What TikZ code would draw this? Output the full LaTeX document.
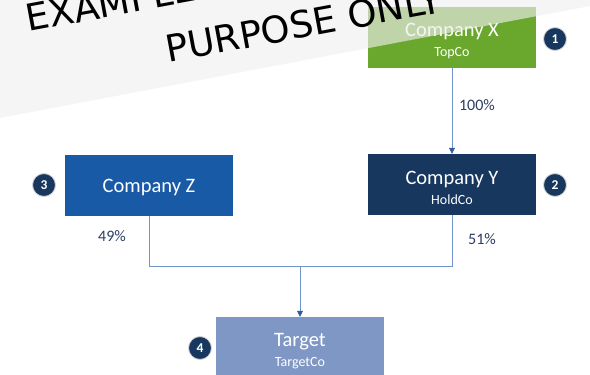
\documentclass[tikz,border=0pt]{standalone}
\usepackage{fontspec}
\setmainfont{Carlito}
\newfontfamily\markfont{DejaVu Sans}
\usepackage{tikz}
\usetikzlibrary{arrows.meta}

\definecolor{topgreen}{HTML}{6AA82D}
\definecolor{holdnavy}{HTML}{17375E}
\definecolor{compblue}{HTML}{185AA5}
\definecolor{targetblue}{HTML}{7F97C5}
\definecolor{linkblue}{HTML}{7094C8}
\definecolor{tipblue}{HTML}{2E5C9E}
\definecolor{pcttext}{HTML}{2C3E63}
\definecolor{bandgray}{HTML}{EFEFEF}

\tikzset{
	box/.style={minimum width=168pt, minimum height=61pt, inner sep=0pt, text=white,
		align=center, font=\fontsize{20.5}{23}\selectfont},
	badge/.style={circle, fill=holdnavy, draw=gray!35, line width=0.9pt, minimum size=23pt,
		inner sep=0pt, text=white, font=\fontsize{13.5}{13.5}\selectfont\bfseries},
	pct/.style={text=pcttext, font=\fontsize{16}{16}\selectfont},
	link/.style={draw=linkblue, line width=0.7pt},
	tip/.style={-{Triangle[length=6pt,width=6pt,color=tipblue]}},
	watermark/.style={rotate=10.5, anchor=base west, inner sep=0pt, font=\markfont\fontsize{37}{37}\selectfont}
}

% shift a line of box text down, keeping the node size
\newcommand{\dropline}[2]{\raisebox{-#1}[\height][\depth]{#2}}
\newcommand{\subname}[1]{{\fontsize{14}{15}\selectfont #1}}

\begin{document}
\begin{tikzpicture}[x=1pt, y=-1pt]
	\useasboundingbox (0,0) rectangle (590,375);
	\clip (0,0) rectangle (590,375);

	% companies
	\node[box, fill=topgreen] (cox) at (452,37.5) {\dropline{3.5pt}{Company X}\\[-3pt]\dropline{3.5pt}{\subname{TopCo}}};
	\node[box, fill=holdnavy] (coy) at (452,184.5) {\dropline{3pt}{Company Y}\\[-3pt]\dropline{3pt}{\subname{HoldCo}}};
	\node[box, fill=compblue] (coz) at (149,185) {\dropline{2pt}{Company Z}};
	\node[box, fill=targetblue] (tgt) at (300,347.5) {\dropline{4pt}{Target}\\[-3pt]\dropline{4pt}{\subname{TargetCo}}};

	% ownership lines
	\coordinate (join) at (300,266);
	\draw[link, tip] (cox.south) -- (coy.north);
	\draw[link] (coz.south) |- (join);
	\draw[link] (coy.south) |- (join);
	\draw[link, tip] (join) -- (tgt.north);

	\node[pct] (px) at (477,105) {100\%};
	\node[pct] (pz) at (112,236) {49\%};
	\node[pct] (py) at (482,239) {51\%};

	% numbering
	\foreach \n/\x/\y in {1/555/39, 2/555/185, 3/44/185, 4/200/348}
		\node[badge] (b\n) at (\x,\y) {\n};

	% watermark band
	\fill[bandgray, opacity=0.64] (0,0) -- (590,0) -- (590,6) -- (0,118) -- cycle;
	\node[watermark] (wm1) at (28,32) {EXAMPLE};
	\node[watermark] (wm2) at (168,63) {PURPOSE ONLY};
\end{tikzpicture}
\end{document}
